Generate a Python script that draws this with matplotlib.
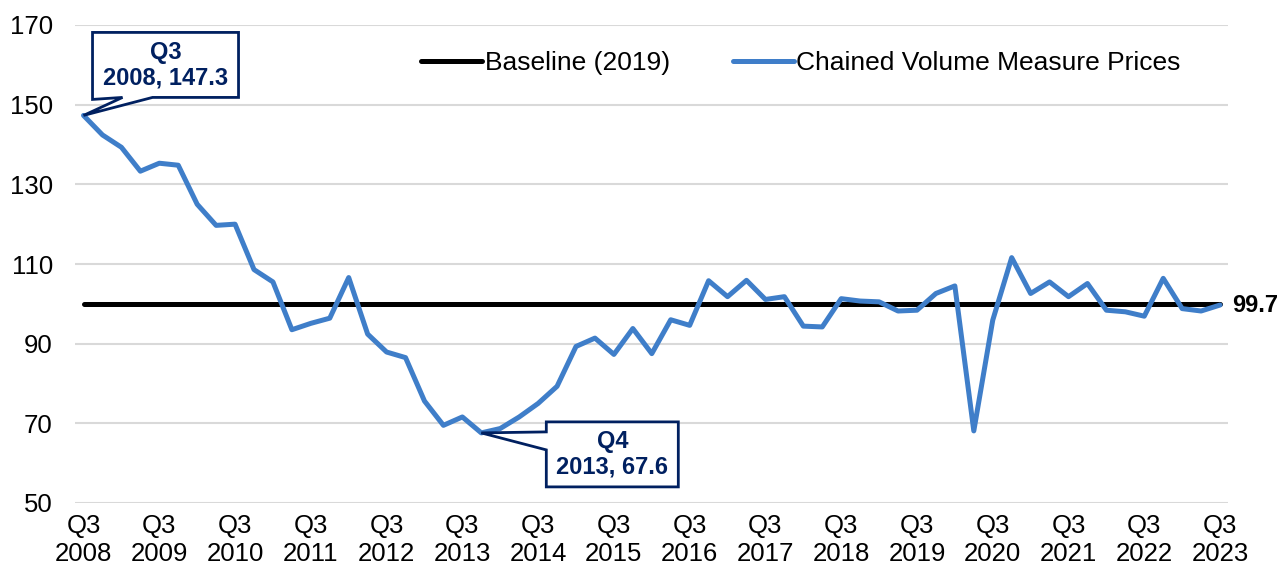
import numpy as np
import matplotlib.pyplot as plt
import matplotlib.transforms as mtransforms
from matplotlib.patches import Polygon

# Quarterly index, Q3 2008 .. Q3 2023
cvm_prices = [147.3, 142.4, 139.3, 133.3, 135.3, 134.8, 125.0, 119.7, 120.0, 108.6,
              105.5, 93.5, 95.1, 96.4, 106.6, 92.4, 87.9, 86.5, 75.6, 69.5,
              71.6, 67.6, 68.7, 71.6, 75.0, 79.3, 89.3, 91.4, 87.3, 93.8,
              87.5, 96.0, 94.6, 105.8, 101.8, 105.9, 101.1, 101.8, 94.4, 94.2,
              101.3, 100.7, 100.5, 98.2, 98.4, 102.6, 104.5, 68.1, 95.9, 111.6,
              102.6, 105.5, 101.8, 105.1, 98.4, 98.0, 96.9, 106.4, 98.8, 98.2,
              99.7]
baseline_value = 100
tick_years = ["2008", "2009", "2010", "2011", "2012", "2013", "2014", "2015",
              "2016", "2017", "2018", "2019", "2020", "2021", "2022", "2023"]
y_ticks = [50, 70, 90, 110, 130, 150, 170]

blue = "#3F7EC9"
navy = "#002060"

plt.rcParams["font.family"] = ["Liberation Sans", "DejaVu Sans"]

fig = plt.figure(figsize=(12.85, 5.76), dpi=100)
ax = fig.add_axes([75 / 1285, 1 - 503 / 576, (1228 - 75) / 1285, (503 - 25) / 576])

x = np.arange(len(cvm_prices))
ax.plot(x, [baseline_value] * len(x), color="black", lw=3.6, solid_capstyle="round",
        label="Baseline (2019)", zorder=3)
ax.plot(x, cvm_prices, color=blue, lw=3.6, solid_joinstyle="round",
        solid_capstyle="round", label="Chained Volume Measure Prices", zorder=4)

ax.set_xlim(-0.45, len(x) - 1 + 0.42)
ax.set_ylim(50, 170)
ax.set_yticks(y_ticks)
ax.set_xticks(x[::4])
ax.set_xticklabels(["Q3\n" + y for y in tick_years])
ax.tick_params(axis="both", length=0, labelsize=18.5)
ax.tick_params(axis="y", pad=16)
ax.tick_params(axis="x", pad=8)
ax.grid(axis="y", color="#D9D9D9", lw=1.5)
ax.set_axisbelow(True)
for s in ax.spines.values():
    s.set_visible(False)


# callout box with pointer, shape given in pixel offsets from the data point
def callout(xi, yi, text, shape, centre):
    trans = fig.dpi_scale_trans + mtransforms.ScaledTranslation(xi, yi, ax.transData)
    verts = [(px / 100, py / 100) for px, py in shape]
    ax.add_patch(Polygon(verts, closed=True, fc="white", ec=navy, lw=2,
                         joinstyle="miter", transform=trans, zorder=6, clip_on=False))
    ax.text(centre[0] / 100, centre[1] / 100, text, transform=trans, ha="center",
            va="center", fontsize=17, fontweight="bold", color=navy, zorder=7,
            linespacing=1.15)


i0 = 0
callout(x[i0], cvm_prices[i0], f"Q3\n2008, {cvm_prices[i0]}",
        [(9, 16), (39, 18), (0, 0), (69, 18), (155, 18), (155, 83), (9, 83)],
        (82, 50))
imin = int(np.argmin(cvm_prices[:40]))
callout(x[imin], cvm_prices[imin], f"Q4\n2013, {cvm_prices[imin]}",
        [(65, 11), (65, 1), (0, 0), (65, -17), (65, -54), (197, -54), (197, 11)],
        (131, -21))

# End value label
ax.annotate(f"{cvm_prices[-1]}", xy=(x[-1], cvm_prices[-1]), xytext=(9, 0),
            textcoords="offset points", ha="left", va="center", fontsize=17,
            fontweight="bold", color="black", annotation_clip=False)

fig.legend(loc="center", bbox_to_anchor=(801 / 1285, 1 - 63 / 576), ncol=2,
           frameon=False, fontsize=19, handlelength=2.3, handletextpad=0.1,
           columnspacing=2.4)

fig.savefig("out.png", dpi=100)
